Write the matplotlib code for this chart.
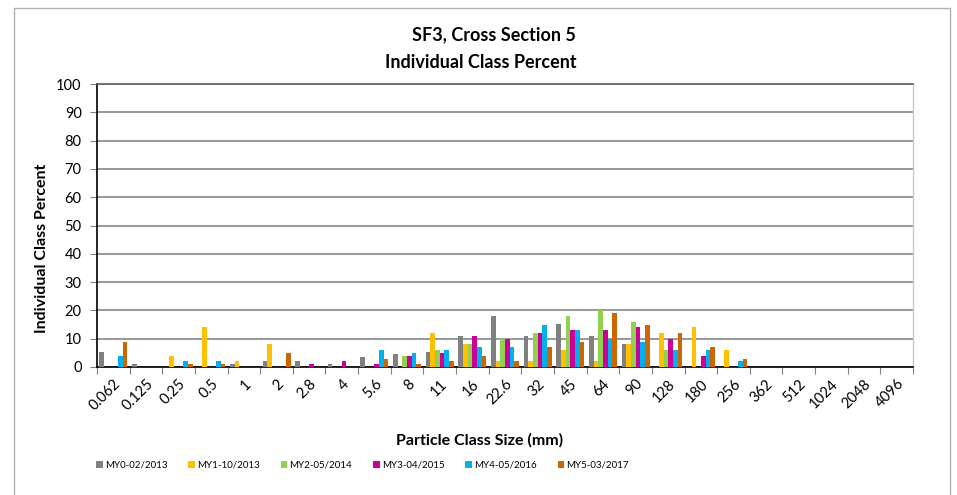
import matplotlib
matplotlib.use("Agg")
import matplotlib.pyplot as plt
import numpy as np
from matplotlib.patches import Rectangle

plt.rcParams['font.family'] = ['Lato', 'DejaVu Sans']

categories = ["0.062", "0.125", "0.25", "0.5", "1", "2", "2.8", "4", "5.6", "8", "11", "16",
              "22.6", "32", "45", "64", "90", "128", "180", "256", "362", "512", "1024", "2048", "4096"]

series_names = ["MY0-02/2013", "MY1-10/2013", "MY2-05/2014", "MY3-04/2015", "MY4-05/2016", "MY5-03/2017"]

my0 = [5.4, 1, 0, 0, 1, 2, 2, 1, 3.6, 4.6, 5.4, 11, 18, 11, 15.3, 11, 8, 0, 0, 0, 0, 0, 0, 0, 0]
my1 = [0, 0, 4, 14, 2, 8, 0, 0, 0, 0, 12, 8, 2, 2, 6, 2, 8, 12, 14, 6, 0, 0, 0, 0, 0]
my2 = [0, 0, 0, 0, 0, 0, 0, 0, 0, 4, 6, 8, 10, 12, 18, 20, 16, 6, 0, 0, 0, 0, 0, 0, 0]
my3 = [0, 0, 0, 0, 0, 0, 1, 2, 1, 4, 5, 11, 10, 12, 13, 13, 14, 10, 4, 0, 0, 0, 0, 0, 0]
my4 = [4, 0, 2, 2, 0, 0, 0, 0, 6, 5, 6, 7, 7, 15, 13, 10, 9, 6, 6, 2, 0, 0, 0, 0, 0]
my5 = [9, 0, 1, 1, 0, 5, 0, 0, 3, 1, 2, 4, 2, 7, 9, 19, 15, 12, 7, 3, 0, 0, 0, 0, 0]

series = [my0, my1, my2, my3, my4, my5]
colors = ["#808080", "#FFC000", "#92D050", "#CC0099", "#00B0F0", "#CC6600"]

W, H = 957, 495
fig = plt.figure(figsize=(W / 100, H / 100), dpi=100)
L, R, T, B = 97, 913, 84, 367
ax = fig.add_axes([L / W, 1 - B / H, (R - L) / W, (B - T) / H])

x = np.arange(len(categories))
bw = 1 / 7
handles = []
for k, (vals, c, name) in enumerate(zip(series, colors, series_names)):
    h = ax.bar(x + (k - 2.5) * bw, vals, width=bw, color=c, label=name, zorder=3,
               linewidth=0)
    handles.append(h)

ax.set_xlim(-0.5, len(categories) - 0.5)
ax.set_ylim(0, 100)
ax.set_yticks(np.arange(0, 101, 10))
ax.yaxis.grid(True, color="#868686", linewidth=1.2, zorder=0)
ax.set_axisbelow(True)

ax.set_xticks(np.arange(-0.5, len(categories), 1))
ax.set_xticklabels([])
ax.set_xticks(x, minor=True)
ax.set_xticklabels(categories, minor=True, rotation=45, ha='right', va='top',
                   rotation_mode='anchor', fontsize=10.5)
ax.tick_params(axis='x', which='minor', length=0, pad=7)
ax.tick_params(axis='x', which='major', length=5, color="#808080")
ax.tick_params(axis='y', length=5, color="#808080", labelsize=10.5, pad=6)

for s in ['left', 'bottom']:
    ax.spines[s].set_color('black')
    ax.spines[s].set_linewidth(1.2)
ax.spines['top'].set_color("#606060")
ax.spines['top'].set_linewidth(1.2)
ax.spines['right'].set_color("#C8C8C8")
ax.spines['right'].set_linewidth(1)

fig.text(494 / W, 1 - 35 / H, "SF3, Cross Section 5", ha='center', va='center',
         fontsize=13, fontweight='bold')
fig.text(481 / W, 1 - 63 / H, "Individual Class Percent", ha='center', va='center',
         fontsize=13, fontweight='bold')
fig.text(480 / W, 1 - 440 / H, "Particle Class Size (mm)", ha='center', va='center',
         fontsize=11.5, fontweight='bold')
fig.text(42 / W, 1 - 248 / H, "Individual Class Percent", ha='center', va='center',
         rotation=90, fontsize=11.5, fontweight='bold')

fig.legend(handles=handles, labels=series_names, loc='center left',
           bbox_to_anchor=(96 / W, 1 - 465 / H), ncol=6, frameon=False,
           fontsize=7, handlelength=0.7, handleheight=0.7, handletextpad=0.2,
           columnspacing=2.15, borderpad=0, borderaxespad=0)

fig.patches.append(Rectangle((14 / W, -0.05), (950 - 14) / W, 1.05 - 8 / H,
                             transform=fig.transFigure, fill=False,
                             edgecolor="#B0B0B0", linewidth=1))

fig.savefig("out.png", dpi=100)
